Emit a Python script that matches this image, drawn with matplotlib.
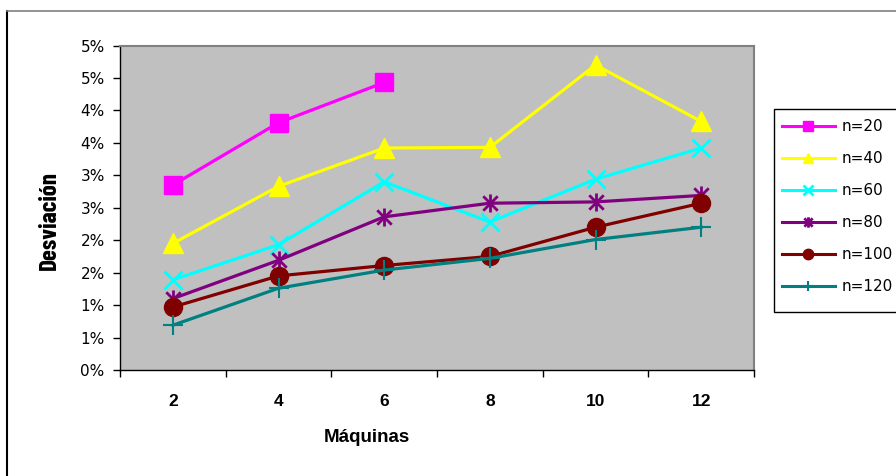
import matplotlib
matplotlib.use("Agg")
import matplotlib.pyplot as plt
import numpy as np
from matplotlib.path import Path
from matplotlib.patches import Rectangle
from matplotlib.lines import Line2D

categories = ["2", "4", "6", "8", "10", "12"]
n20 = [2.85, 3.81, 4.43]
n40 = [1.95, 2.83, 3.42, 3.43, 4.70, 3.83]
n60 = [1.39, 1.93, 2.90, 2.28, 2.94, 3.42]
n80 = [1.10, 1.69, 2.36, 2.57, 2.59, 2.69]
n100 = [0.97, 1.45, 1.61, 1.75, 2.20, 2.57]
n120 = [0.69, 1.26, 1.54, 1.72, 2.01, 2.20]
series_labels = ["n=20", "n=40", "n=60", "n=80", "n=100", "n=120"]
ytick_labels = ["0%", "1%", "1%", "2%", "2%", "3%", "3%", "4%", "4%", "5%", "5%"]
xlabel = "Máquinas"
ylabel = "Desviación"

W, H = 896, 476
fig = plt.figure(figsize=(W / 100, H / 100), dpi=100)
fig.patch.set_facecolor("white")

def fx(px):
    return px / W

def fy(py):
    return 1 - py / H

fig.add_artist(Line2D([fx(7), fx(7)], [fy(11), fy(480)], color="black", lw=1.5))
fig.add_artist(Line2D([fx(7), fx(900)], [fy(11), fy(11)], color="#808080", lw=1.2))

L, R, T, B = 120, 754, 45.5, 370
ax = fig.add_axes([fx(L), fy(B), fx(R) - fx(L), fy(T) - fy(B)])
ax.set_facecolor("#C0C0C0")
for s in ["top", "right"]:
    ax.spines[s].set_color("#808080")
    ax.spines[s].set_linewidth(1.5)
for s in ["left", "bottom"]:
    ax.spines[s].set_color("#000000")
    ax.spines[s].set_linewidth(1.0)

x = np.arange(len(categories))

star = Path([(0, -1), (0, 1), (-0.8, -0.8), (0.8, 0.8), (-0.8, 0.8), (0.8, -0.8)],
            [Path.MOVETO, Path.LINETO, Path.MOVETO, Path.LINETO, Path.MOVETO, Path.LINETO])

specs = [
    (n20, "#FF00FF", "s", 13, 1.0),
    (n40, "#FFFF00", "^", 14, 1.0),
    (n60, "#00FFFF", "x", 13, 2.0),
    (n80, "#800080", star, 13, 2.0),
    (n100, "#800000", "o", 13, 1.0),
    (n120, "#008080", "+", 14, 1.5),
]
for (vals, c, m, ms, mew), lab in zip(specs, series_labels):
    ax.plot(x[:len(vals)], vals, color=c, lw=2.3, marker=m, markersize=ms,
            markeredgewidth=mew, markeredgecolor=c, markerfacecolor=c,
            label=lab, solid_joinstyle="miter")

ax.set_xlim(-0.5, len(categories) - 0.5)
ax.set_ylim(0, 5)
ax.set_yticks(np.arange(0, 5.01, 0.5))
ax.set_yticklabels(ytick_labels, fontsize=11, family="DejaVu Sans")
ax.tick_params(axis="y", direction="out", length=5, width=1, pad=6)
ax.set_xticks(x)
ax.set_xticklabels(categories, fontsize=12.5, fontweight="bold", family="Liberation Sans")
ax.set_xticks(np.arange(-0.5, len(categories), 1), minor=True)
ax.tick_params(axis="x", which="major", length=0, pad=17)
ax.tick_params(axis="x", which="minor", direction="out", length=5, width=1)

fig.text(fx(367), fy(438), xlabel, ha="center", va="center", fontsize=13.5,
         fontweight="bold", family="Liberation Sans")
fig.text(fx(50), fy(220), ylabel, ha="center", va="center", rotation=90,
         fontsize=18, fontweight="bold",
         family=["Barlow Condensed", "Asap Condensed", "DejaVu Sans"])

fig.add_artist(Rectangle((fx(774), fy(312)), fx(900) - fx(774), fy(109) - fy(312),
                         transform=fig.transFigure, facecolor="white",
                         edgecolor="black", lw=1.0))
handles, labels = ax.get_legend_handles_labels()
leg = fig.legend(handles, labels, loc="upper left",
                 bbox_to_anchor=(fx(775), fy(112)), frameon=False,
                 prop={"family": "DejaVu Sans", "size": 11},
                 handlelength=3.45, handletextpad=0.45, labelspacing=1.12,
                 borderpad=0.45, borderaxespad=0)
for ln in leg.get_lines():
    ln.set_markersize(7.5)
    ln.set_linewidth(2.2)

fig.savefig("out.png", dpi=100)
